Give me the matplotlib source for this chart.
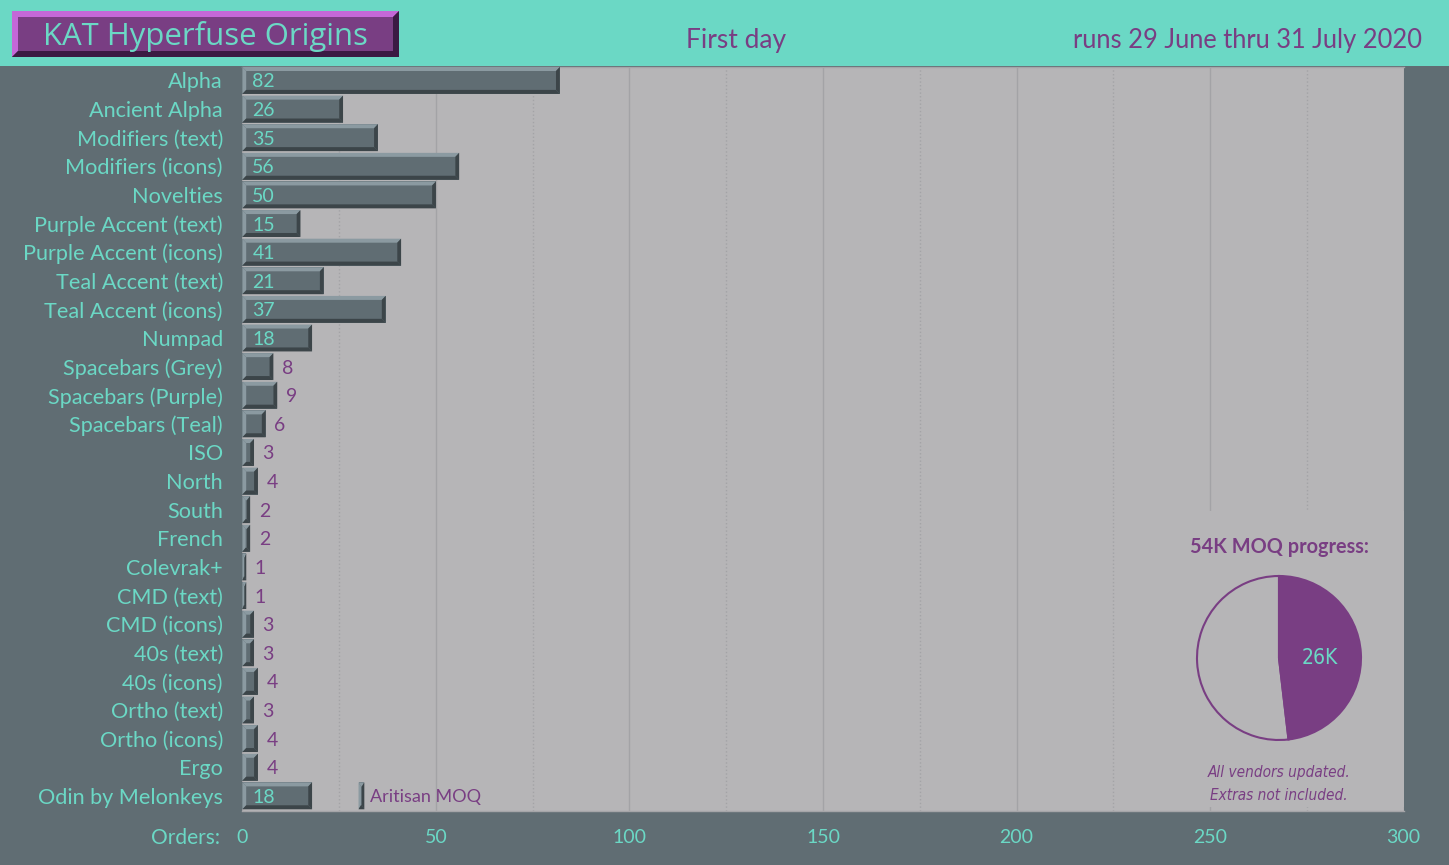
import matplotlib
matplotlib.use('Agg')
import matplotlib.pyplot as plt
from matplotlib.patches import Rectangle, Polygon

categories = ["Alpha","Ancient Alpha","Modifiers (text)","Modifiers (icons)","Novelties",
 "Purple Accent (text)","Purple Accent (icons)","Teal Accent (text)","Teal Accent (icons)","Numpad",
 "Spacebars (Grey)","Spacebars (Purple)","Spacebars (Teal)","ISO","North","South","French","Colevrak+",
 "CMD (text)","CMD (icons)","40s (text)","40s (icons)","Ortho (text)","Ortho (icons)","Ergo","Odin by Melonkeys"]
orders = [82,26,35,56,50,15,41,21,37,18,8,9,6,3,4,2,2,1,1,3,3,4,3,4,4,18]
artisan_left = 30
artisan_width = 1.5
xticks = [0,50,100,150,200,250,300]
moq_values = [26,28]

BG='#606d73'; TEAL='#6bd8c5'; PURPLE='#793e83'; PLOT='#b6b5b7'
LIGHT='#8b9aa1'; DARK='#3c4549'
FONT=['Lato','DejaVu Sans']
NARROW=['DejaVu Sans']
W,H=1449,865
fig=plt.figure(figsize=(W/100,H/100),dpi=100,facecolor=BG)
def axpx(l,t,r,b,**k):
    return fig.add_axes([l/W,1-b/H,(r-l)/W,(b-t)/H],**k)

ax=axpx(242.4,67,1403.6,811,facecolor=PLOT)
ax.set_xlim(0,300); ax.set_ylim(25.53,-0.47)
ys=list(range(len(categories)))
PXX=1161.2/300; PXY=744/26
def bevel_bar(y,left,v,h=0.94):
    bx=min(3.8/PXX,v*0.42); by=4/PXY
    t,b=y-h/2,y+h/2; l,r=left,left+v
    ax.barh(y,v,left=left,height=h,color=BG,zorder=3)
    ax.add_patch(Polygon([(l,t),(r,t),(r-bx,t+by),(l+bx,t+by)],fc=LIGHT,ec='none',zorder=4))
    ax.add_patch(Polygon([(l,t),(l+bx,t+by),(l+bx,b-by),(l,b)],fc=LIGHT,ec='none',zorder=4))
    ax.add_patch(Polygon([(r,t),(r,b),(r-bx,b-by),(r-bx,t+by)],fc=DARK,ec='none',zorder=4))
    ax.add_patch(Polygon([(l,b),(r,b),(r-bx,b-by),(l+bx,b-by)],fc=DARK,ec='none',zorder=4))
for y,v in zip(ys,orders):
    bevel_bar(y,0,v)
    if v>=15:
        ax.text(10/PXX,y,str(v),color=TEAL,fontsize=14,family=FONT,va='center_baseline',ha='left',zorder=6)
    else:
        ax.text(v+8.5/PXX,y,str(v),color=PURPLE,fontsize=14,family=FONT,va='center_baseline',ha='left',zorder=6)
bevel_bar(ys[-1],artisan_left,artisan_width)
ax.text(artisan_left+artisan_width+6/PXX,ys[-1],'Aritisan MOQ',color=PURPLE,fontsize=13,family=FONT,va='center_baseline',ha='left',zorder=6)

ax.set_yticks(ys); ax.set_yticklabels(categories,color=TEAL,fontsize=15.6,family=FONT,va='center_baseline')
ax.set_xticks(xticks); ax.set_xticklabels([str(x) for x in xticks],color=TEAL,fontsize=14,family=FONT)
ax.set_xticks([25,75,125,175,225,275],minor=True)
ax.tick_params(axis='y',length=0,pad=14)
ax.tick_params(axis='x',which='both',length=0,pad=13)
ax.grid(axis='x',which='major',color='#a3a3a6',lw=1,zorder=1)
ax.grid(axis='x',which='minor',color='#a3a3a6',lw=1,ls=':',zorder=1)
ax.set_axisbelow(True)
for s,sp in ax.spines.items():
    sp.set_visible(s in('top','bottom')); sp.set_color('#a5a5a8'); sp.set_linewidth(1)
# panel hiding grid behind the pie
ax.add_patch(Rectangle((232,(511-67)/PXY-0.47),68,(807-511)/PXY,fc=PLOT,ec='none',zorder=2))
fig.text(220/W,1-836/H,'Orders:',color=TEAL,fontsize=15,family=FONT,ha='right',va='center_baseline')

# header
hd=axpx(0,0,W,66); hd.set_xlim(0,W); hd.set_ylim(66,0); hd.axis('off')
hd.add_patch(Rectangle((0,0),W,66,fc=TEAL,ec='none'))
l,t,r,b=12,11,399,57; bv=6
hd.add_patch(Rectangle((l,t),r-l,b-t,fc=PURPLE,ec='none'))
hd.add_patch(Polygon([(l,t),(r,t),(r-bv,t+bv),(l+bv,t+bv),(l+bv,b-bv),(l,b)],fc='#c468d8',ec='none'))
hd.add_patch(Polygon([(r,t),(r,b),(l,b),(l+bv,b-bv),(r-bv,b-bv),(r-bv,t+bv)],fc='#3b1a43',ec='none'))
hd.text(205.5,33,'KAT Hyperfuse Origins',color=TEAL,fontsize=22.4,family=['Open Sans','DejaVu Sans'],ha='center',va='center_baseline')
hd.text(736,38,'First day',color=PURPLE,fontsize=19,family=FONT,ha='center',va='center_baseline')
hd.text(1422,38,'runs 29 June thru 31 July 2020',color=PURPLE,fontsize=18.4,family=FONT,ha='right',va='center_baseline')

# pie
pa=axpx(1195,574,1363,742)
pa.pie(moq_values,startangle=90,counterclock=False,colors=[PURPLE,'none'],radius=1,
       wedgeprops=dict(edgecolor=PURPLE,linewidth=1.5))
pa.set_xlim(-84/82,84/82); pa.set_ylim(-84/82,84/82); pa.set_aspect('equal')
fig.text(1279/W,1-545/H,'54K MOQ progress:',color=PURPLE,fontsize=14.3,family=FONT,ha='center',va='center_baseline',fontweight='bold')
fig.text(1320/W,1-656/H,'26K',color=TEAL,fontsize=15,family=NARROW,stretch='condensed',ha='center',va='center_baseline')
fig.text(1279/W,1-771/H,'All vendors updated.',color=PURPLE,fontsize=11,family=NARROW,stretch='condensed',style='italic',ha='center',va='center_baseline')
fig.text(1279/W,1-794/H,'Extras not included.',color=PURPLE,fontsize=11,family=NARROW,stretch='condensed',style='italic',ha='center',va='center_baseline')
fig.savefig('out.png',dpi=100,facecolor=BG)
